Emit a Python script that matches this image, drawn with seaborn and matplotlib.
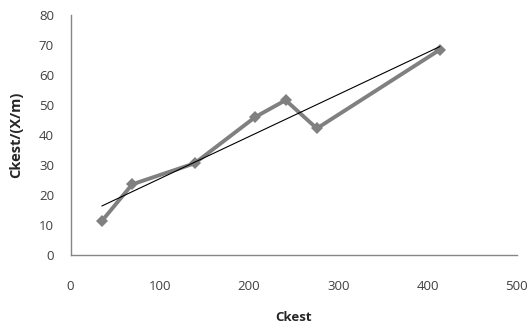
import numpy as np
import pandas as pd
import matplotlib
matplotlib.use("Agg")
import matplotlib.pyplot as plt
import seaborn as sns

# data
ckest_x = [35, 69, 139, 207, 241, 276, 414]
ckest_y = [11.4, 23.6, 30.6, 46.0, 51.6, 42.2, 68.4]
x_ticks = [0, 100, 200, 300, 400, 500]
y_ticks = [0, 10, 20, 30, 40, 50, 60, 70, 80]

df = pd.DataFrame({"x": ckest_x, "y": ckest_y})

sns.set_style("white")
plt.rcParams["font.family"] = ["Open Sans", "DejaVu Sans"]

fig = plt.figure(figsize=(5.31, 3.29), dpi=100)
ax = fig.add_axes([0.133, 0.224, 0.840, 0.731])

# series with diamond markers
sns.lineplot(data=df, x="x", y="y", ax=ax, sort=False, color="#808080",
             linewidth=2.8, marker="D", markersize=6.5, markeredgewidth=0)

# linear trend line
sns.regplot(data=df, x="x", y="y", ax=ax, scatter=False, ci=None,
            line_kws={"color": "black", "linewidth": 0.8})

ax.set_xlim(0, 500)
ax.set_ylim(0, 80)
ax.set_xticks(x_ticks)
ax.set_yticks(y_ticks)

for s in ["top", "right"]:
    ax.spines[s].set_visible(False)
for s in ["left", "bottom"]:
    ax.spines[s].set_color("#868686")
    ax.spines[s].set_linewidth(1.0)

ax.tick_params(axis="x", direction="out", length=4, width=1, color="#868686",
               pad=14, labelsize=9.5, labelcolor="#404040")
ax.tick_params(axis="y", direction="out", length=4, width=1, color="#868686",
               pad=8, labelsize=9.5, labelcolor="#404040")

ax.set_xlabel("Ckest", fontsize=9.5, fontweight="bold", labelpad=13)
ax.set_ylabel("Ckest/(X/m)", fontsize=10.5, fontweight="bold", labelpad=11)

fig.savefig("out.png", dpi=100)
